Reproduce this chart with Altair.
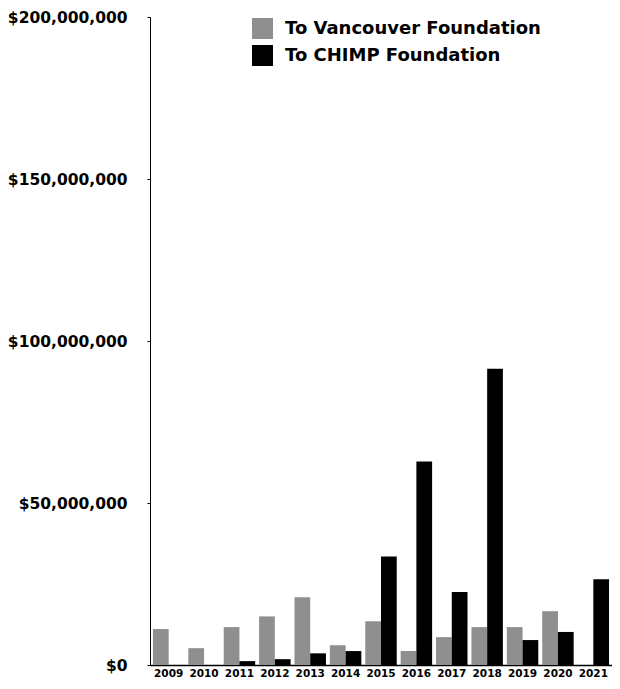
import altair as alt
import pandas as pd

years = ["2009", "2010", "2011", "2012", "2013", "2014", "2015",
         "2016", "2017", "2018", "2019", "2020", "2021"]
vancouver = [11.1, 5.2, 11.7, 15.0, 20.9, 6.1, 13.5, 4.3, 8.6, 11.7, 11.7, 16.6, 0.0]
chimp = [0.0, 0.0, 1.2, 1.8, 3.6, 4.3, 33.5, 62.8, 22.5, 91.4, 7.7, 10.2, 26.5]
series = ["To Vancouver Foundation", "To CHIMP Foundation"]
colors = ["#8f8f8f", "#000000"]

rows = []
for i, y in enumerate(years):
    rows.append({"year": y, "series": series[0], "value": vancouver[i] * 1e6})
    rows.append({"year": y, "series": series[1], "value": chimp[i] * 1e6})
df = pd.DataFrame(rows)

FONT = "DejaVu Sans"

chart = alt.Chart(df).mark_bar().encode(
    x=alt.X("year:N", sort=years,
            scale=alt.Scale(paddingInner=4/36, paddingOuter=0.0833),
            axis=alt.Axis(title=None, labelAngle=0, ticks=False,
                          labelFont=FONT, labelFontSize=10.5, labelFontWeight="bold",
                          labelColor="#000", labelPadding=3,
                          domainColor="#000", domainWidth=1.5)),
    xOffset=alt.XOffset("series:N", sort=series, scale=alt.Scale(paddingInner=0, paddingOuter=0)),
    y=alt.Y("value:Q", scale=alt.Scale(domain=[0, 200e6], nice=False),
            axis=alt.Axis(title=None, values=[0, 50e6, 100e6, 150e6, 200e6],
                          format="$,.0f", grid=False, tickSize=3, tickColor="#000",
                          labelFont=FONT, labelFontSize=15.5, labelFontWeight="bold",
                          labelColor="#000", labelPadding=20,
                          domainColor="#000", domainWidth=1)),
    color=alt.Color("series:N", sort=series,
                    scale=alt.Scale(domain=series, range=colors),
                    legend=alt.Legend(title=None, orient="none", legendX=102, legendY=1,
                                      symbolType="square", symbolSize=441,
                                      symbolStrokeWidth=0, symbolOpacity=1,
                                      labelFont=FONT, labelFontSize=18,
                                      labelFontWeight="bold", labelColor="#000",
                                      labelOffset=12, rowPadding=6, labelLimit=400)),
).properties(
    width=462, height=648,
    autosize=alt.AutoSizeParams(type="none"),
    padding={"left": 142, "top": 9, "right": 0, "bottom": 16},
).configure_view(stroke=None)

chart.save("out.html", embed_options={"renderer": "svg", "actions": False})
